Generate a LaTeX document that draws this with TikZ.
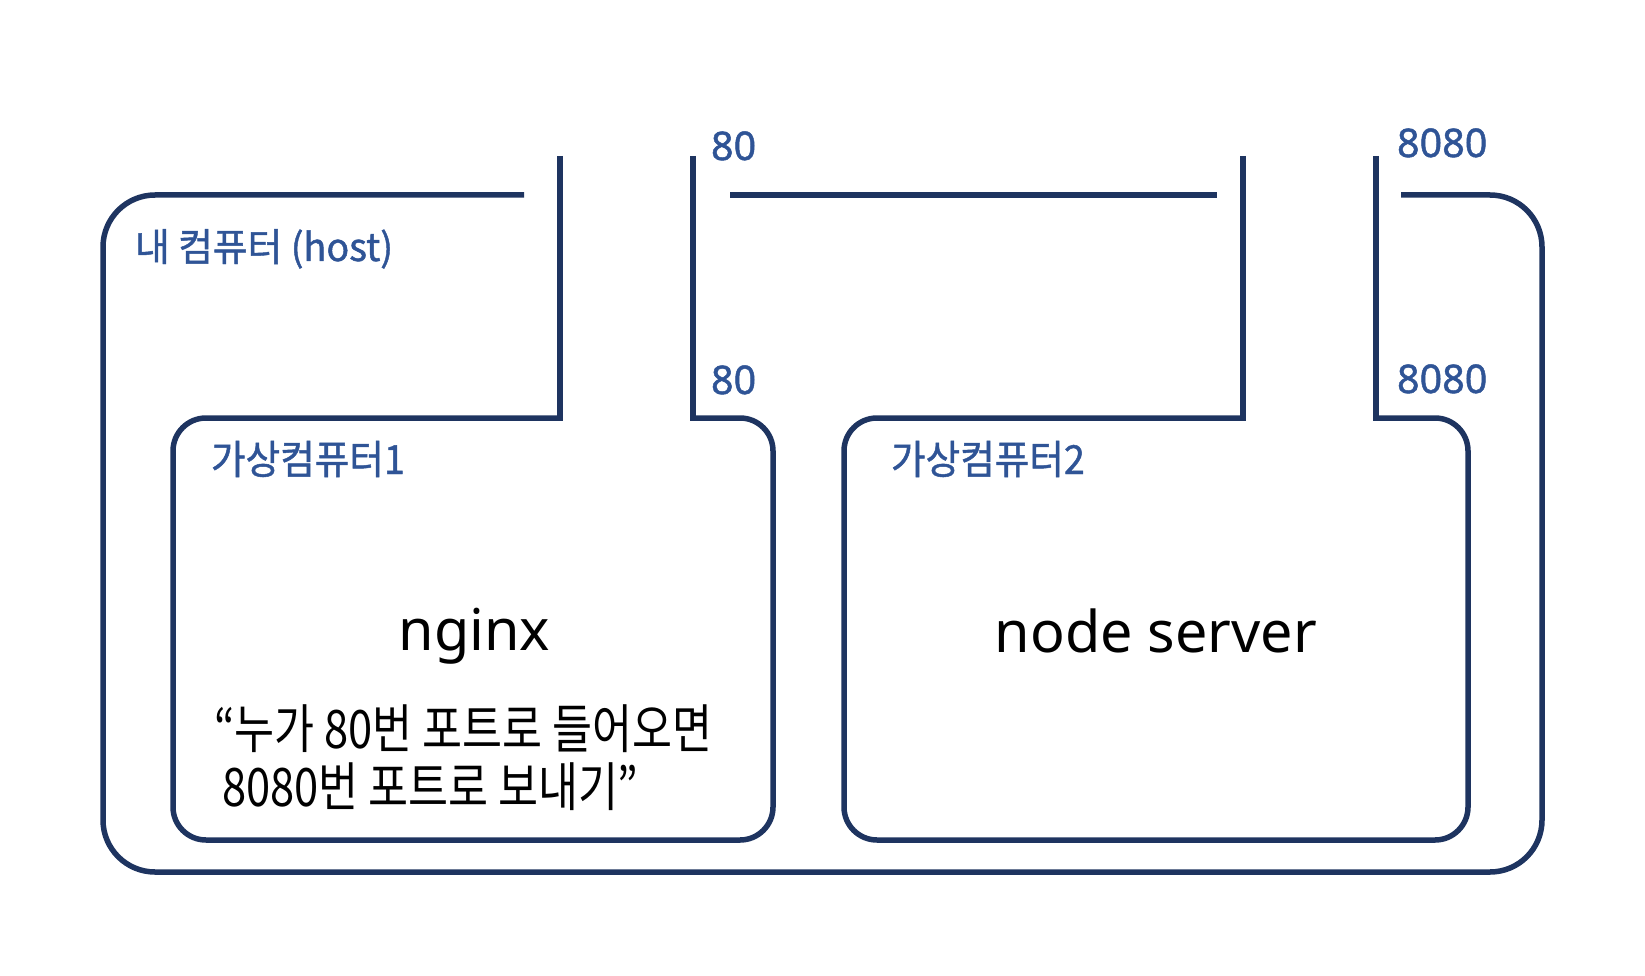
\documentclass[tikz,border=0pt]{standalone}
\usepackage{fontspec}
\newfontfamily\cjkhost[FakeStretch=0.98,FakeBold=1.2]{Noto Sans CJK KR}
\newfontfamily\cjkvm[FakeStretch=0.94,FakeBold=1.2]{Noto Sans CJK KR}
\newfontfamily\cjkq[FakeStretch=0.82]{Noto Sans CJK KR}
\newfontfamily\lat{Noto Sans}
\newfontfamily\latb[FakeBold=1.2]{Noto Sans}
\definecolor{linec}{HTML}{1E3460}
\definecolor{bluet}{HTML}{2F5496}
\tikzset{
  wall/.style={draw=linec, line width=5.5pt, line cap=butt, line join=miter},
  lbl/.style={inner sep=0pt, outer sep=0pt, text=bluet},
  port/.style={lbl, anchor=base west, font=\latb\fontsize{39.5}{46}\selectfont},
  big/.style={inner sep=0pt, outer sep=0pt, anchor=base, text=black, font=\lat\fontsize{57.5}{66}\selectfont},
}
\begin{document}
\begin{tikzpicture}[x=1pt,y=-1pt]
\useasboundingbox (0,0) rectangle (1645,976);
% host box
\draw[wall, rounded corners=52pt] (524,195) -- (103,195) -- (103,872) -- (1542,872) -- (1542,195) -- (1401,195);
\draw[wall] (730,195) -- (1217,195);
% VM1
\draw[wall, rounded corners=33pt] (562.75,418) -- (173,418) -- (173,840) -- (773,840) -- (773,418) -- (690.25,418);
\draw[wall] (560,156) -- (560,420.75);
\draw[wall] (693,156) -- (693,420.75);
% VM2
\draw[wall, rounded corners=33pt] (1245.75,418) -- (844,418) -- (844,840) -- (1468,840) -- (1468,418) -- (1373.25,418);
\draw[wall] (1243,156) -- (1243,420.75);
\draw[wall] (1376,156) -- (1376,420.75);
% labels
\node[lbl, anchor=base west, font=\cjkhost\fontsize{38.5}{46}\selectfont] (host) at (135,261) {내 컴퓨터 (host)};
\node[lbl, anchor=base west, font=\cjkvm\fontsize{40}{48}\selectfont] (vm1) at (211,474) {가상컴퓨터1};
\node[lbl, anchor=base west, font=\cjkvm\fontsize{40}{48}\selectfont] (vm2) at (891,474) {가상컴퓨터2};
\node[port] (p80a) at (711,160) {80};
\node[port] (p80b) at (711,394) {80};
\node[port] (p8080a) at (1397,157) {8080};
\node[port] (p8080b) at (1397,393) {8080};
\node[big] (nginx) at (474.5,650) {nginx};
\node[big] (node) at (1156,652) {node server};
\node[inner sep=0pt, anchor=base west, font=\cjkq\fontsize{53}{60}\selectfont] (q1) at (214,748) {“누가 80번 포트로 들어오면};
\node[inner sep=0pt, anchor=base west, font=\cjkq\fontsize{53}{60}\selectfont] (q2) at (222,806) {8080번 포트로 보내기”};
\end{tikzpicture}
\end{document}
